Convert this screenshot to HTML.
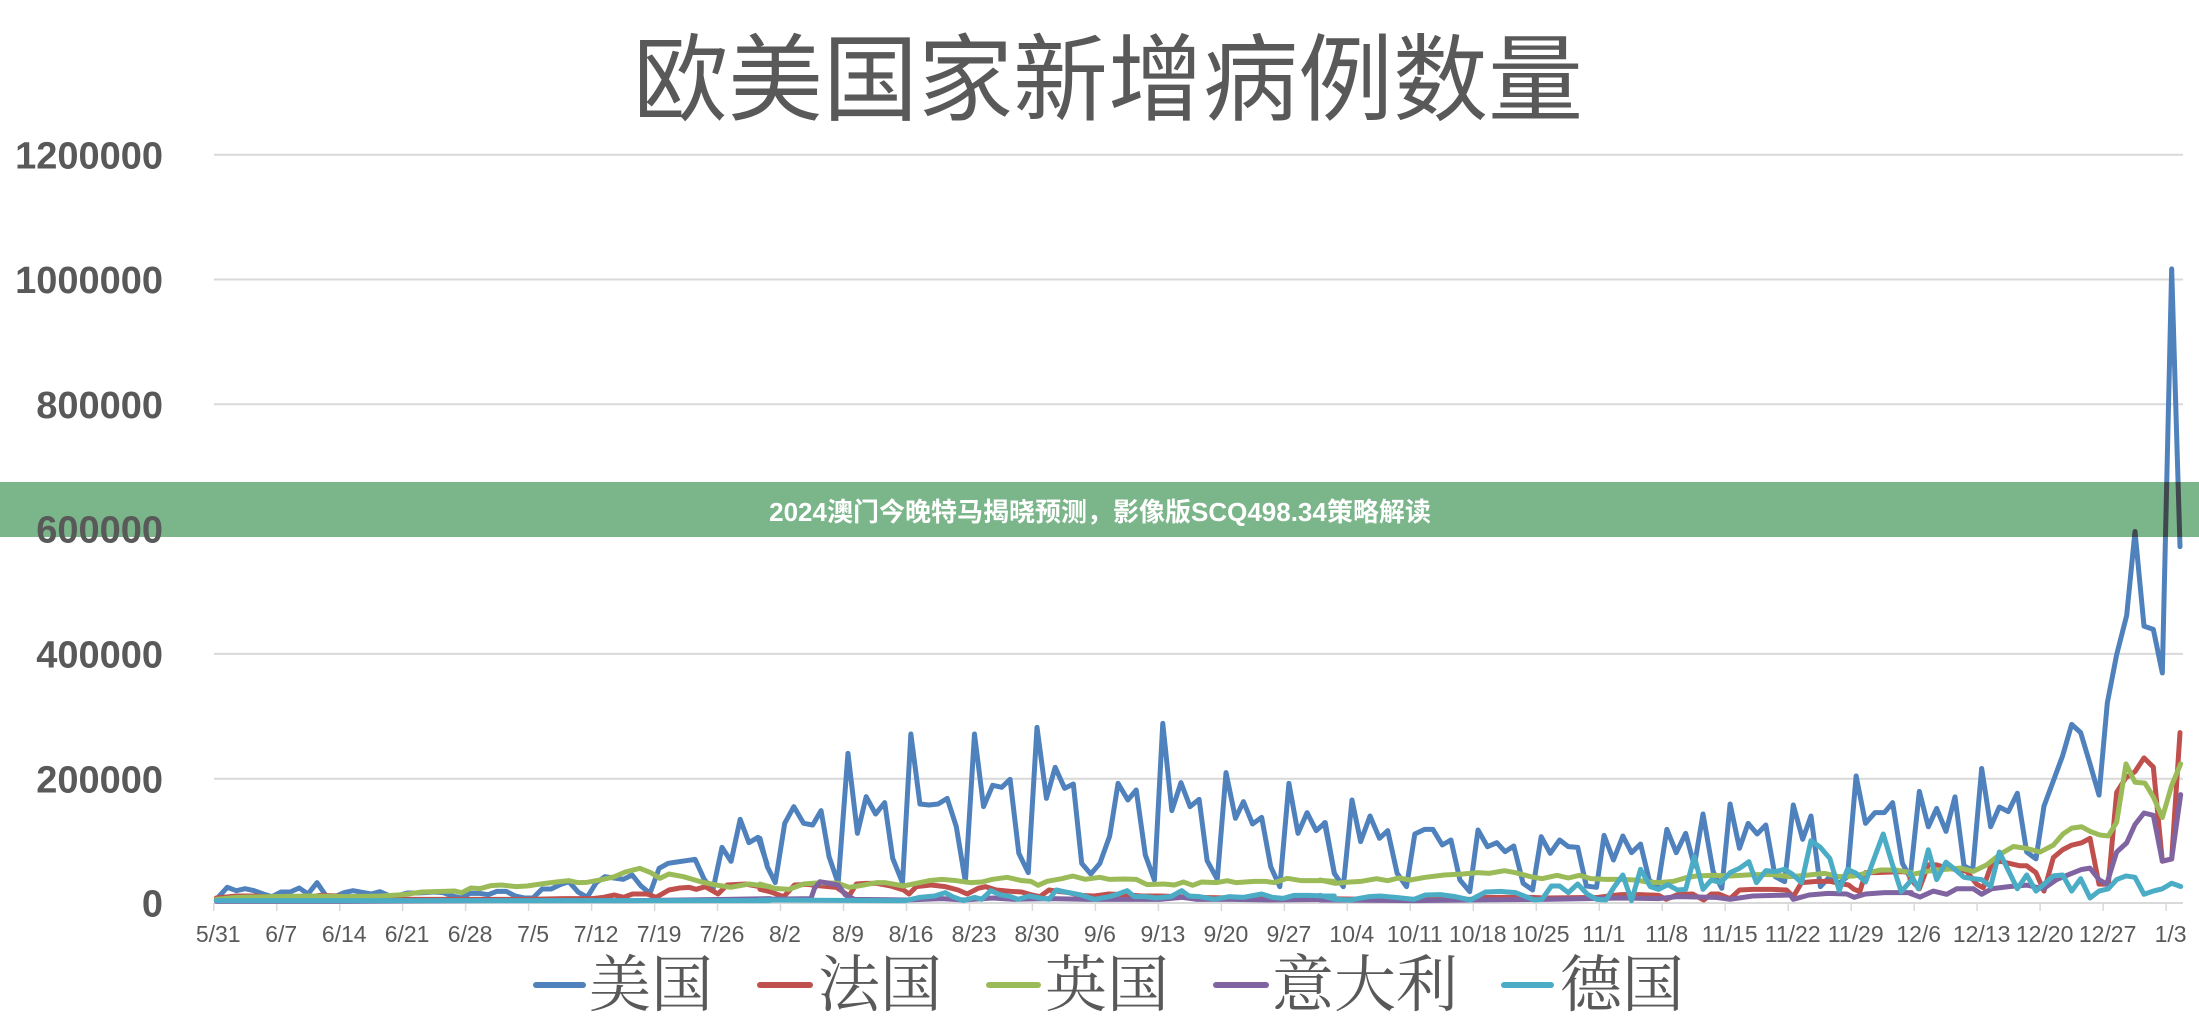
<!DOCTYPE html>
<html><head><meta charset="utf-8"><style>
html,body{margin:0;padding:0;background:#fff;}
svg{display:block;}
.yl{font-family:"Liberation Sans",sans-serif;font-weight:bold;font-size:38px;fill:#595959;text-anchor:end;}
.xl{font-family:"Liberation Sans",sans-serif;font-size:23px;fill:#595959;text-anchor:middle;}
.lg{font-family:"Liberation Serif","Noto Serif CJK SC",serif;font-size:62px;fill:#595959;}
.s{fill:none;stroke-width:5;stroke-linejoin:round;stroke-linecap:round;}
</style></head><body>
<svg width="2199" height="1020" viewBox="0 0 2199 1020" xmlns="http://www.w3.org/2000/svg">
<rect width="2199" height="1020" fill="#fff"/>
<text x="1108" y="113" text-anchor="middle" style="font-family:'Liberation Sans','Noto Sans CJK SC',sans-serif;font-size:95px;fill:#595959;">欧美国家新增病例数量</text>
<g stroke="#d9d9d9" stroke-width="2">
<line x1="214" y1="154.7" x2="2183" y2="154.7"/>
<line x1="214" y1="279.5" x2="2183" y2="279.5"/>
<line x1="214" y1="404.3" x2="2183" y2="404.3"/>
<line x1="214" y1="529.1" x2="2183" y2="529.1"/>
<line x1="214" y1="653.9" x2="2183" y2="653.9"/>
<line x1="214" y1="778.7" x2="2183" y2="778.7"/>
<line x1="214" y1="903" x2="2183" y2="903"/>
</g>
<g stroke="#d9d9d9" stroke-width="1.5">
<line x1="213.7" y1="903" x2="213.7" y2="911"/><line x1="276.7" y1="903" x2="276.7" y2="911"/><line x1="339.7" y1="903" x2="339.7" y2="911"/><line x1="402.6" y1="903" x2="402.6" y2="911"/><line x1="465.6" y1="903" x2="465.6" y2="911"/><line x1="528.6" y1="903" x2="528.6" y2="911"/><line x1="591.6" y1="903" x2="591.6" y2="911"/><line x1="654.6" y1="903" x2="654.6" y2="911"/><line x1="717.5" y1="903" x2="717.5" y2="911"/><line x1="780.5" y1="903" x2="780.5" y2="911"/><line x1="843.5" y1="903" x2="843.5" y2="911"/><line x1="906.5" y1="903" x2="906.5" y2="911"/><line x1="969.5" y1="903" x2="969.5" y2="911"/><line x1="1032.4" y1="903" x2="1032.4" y2="911"/><line x1="1095.4" y1="903" x2="1095.4" y2="911"/><line x1="1158.4" y1="903" x2="1158.4" y2="911"/><line x1="1221.4" y1="903" x2="1221.4" y2="911"/><line x1="1284.4" y1="903" x2="1284.4" y2="911"/><line x1="1347.3" y1="903" x2="1347.3" y2="911"/><line x1="1410.3" y1="903" x2="1410.3" y2="911"/><line x1="1473.3" y1="903" x2="1473.3" y2="911"/><line x1="1536.3" y1="903" x2="1536.3" y2="911"/><line x1="1599.3" y1="903" x2="1599.3" y2="911"/><line x1="1662.2" y1="903" x2="1662.2" y2="911"/><line x1="1725.2" y1="903" x2="1725.2" y2="911"/><line x1="1788.2" y1="903" x2="1788.2" y2="911"/><line x1="1851.2" y1="903" x2="1851.2" y2="911"/><line x1="1914.2" y1="903" x2="1914.2" y2="911"/><line x1="1977.1" y1="903" x2="1977.1" y2="911"/><line x1="2040.1" y1="903" x2="2040.1" y2="911"/><line x1="2103.1" y1="903" x2="2103.1" y2="911"/><line x1="2166.1" y1="903" x2="2166.1" y2="911"/>
</g>
<text class="yl" x="163" y="168.3">1200000</text>
<text class="yl" x="163" y="293.1">1000000</text>
<text class="yl" x="163" y="417.9">800000</text>
<text class="yl" x="163" y="667.5">400000</text>
<text class="yl" x="163" y="792.3">200000</text>
<text class="yl" x="163" y="916.6">0</text>
<g class="xl">
<text class="xl" x="218.2" y="942">5/31</text><text class="xl" x="281.2" y="942">6/7</text><text class="xl" x="344.2" y="942">6/14</text><text class="xl" x="407.1" y="942">6/21</text><text class="xl" x="470.1" y="942">6/28</text><text class="xl" x="533.1" y="942">7/5</text><text class="xl" x="596.1" y="942">7/12</text><text class="xl" x="659.1" y="942">7/19</text><text class="xl" x="722" y="942">7/26</text><text class="xl" x="785" y="942">8/2</text><text class="xl" x="848" y="942">8/9</text><text class="xl" x="911" y="942">8/16</text><text class="xl" x="974" y="942">8/23</text><text class="xl" x="1036.9" y="942">8/30</text><text class="xl" x="1099.9" y="942">9/6</text><text class="xl" x="1162.9" y="942">9/13</text><text class="xl" x="1225.9" y="942">9/20</text><text class="xl" x="1288.9" y="942">9/27</text><text class="xl" x="1351.8" y="942">10/4</text><text class="xl" x="1414.8" y="942">10/11</text><text class="xl" x="1477.8" y="942">10/18</text><text class="xl" x="1540.8" y="942">10/25</text><text class="xl" x="1603.8" y="942">11/1</text><text class="xl" x="1666.7" y="942">11/8</text><text class="xl" x="1729.7" y="942">11/15</text><text class="xl" x="1792.7" y="942">11/22</text><text class="xl" x="1855.7" y="942">11/29</text><text class="xl" x="1918.7" y="942">12/6</text><text class="xl" x="1981.6" y="942">12/13</text><text class="xl" x="2044.6" y="942">12/20</text><text class="xl" x="2107.6" y="942">12/27</text><text class="xl" x="2170.6" y="942">1/3</text>
</g>

<!-- BLUE -->
<g stroke="#4F81BD">
<polyline class="s" vector-effect="non-scaling-stroke" transform="translate(200,690) scale(0.36351,0.33333)" style="vector-effect:non-scaling-stroke" points="45,628 75,592 100,602 124,596 149,602 174,612 198,620 223,606 248,606 273,594 297,612 322,578 347,618 372,620 396,608 421,602 446,607 471,612 495,605 520,617 545,617 570,609 594,609 619,608 644,606 669,608 694,618 718,624 743,610 768,610 793,614 817,604 842,604 867,618 892,624 916,624 941,597 966,597 991,584 1015,575 1040,606 1065,622 1090,578 1114,560 1139,564 1164,568 1189,555 1213,588 1238,610 1263,535 1288,520 1312,516 1337,512 1362,508 1387,568 1411,600 1436,472 1461,514 1486,388 1510,458 1535,442 1560,522"/>
<polyline class="s" vector-effect="non-scaling-stroke" transform="translate(760,690) scale(0.36351,0.33333)" points="0,445 20,530 42,578 68,400 93,350 120,400 145,405 168,362 190,500 215,580 242,190 268,430 292,320 318,372 343,338 365,505 392,578 415,132 440,342 465,345 490,342 515,325 540,410 565,575 590,132 615,350 640,286 665,292 688,268 712,490 738,548 762,112 788,325 812,232 838,295 862,282 885,520 910,552 935,520 962,438 985,280 1012,330 1035,300 1060,495 1085,570 1108,100 1133,362 1158,278 1183,350 1208,328 1230,512 1258,568 1282,248 1308,385 1330,335 1355,402 1380,382 1405,530 1430,590 1455,280 1480,430 1505,368 1530,422 1555,398 1580,550"/>
<polyline class="s" vector-effect="non-scaling-stroke" transform="translate(1320,690) scale(0.37622,0.33333)" points="12,398 38,550 62,590 85,330 108,455 133,378 158,445 180,422 205,550 230,590 252,432 278,418 300,418 325,465 348,450 372,570 398,605 420,420 445,470 470,458 492,485 515,468 540,580 565,600 588,440 612,490 637,450 660,470 685,472 708,588 735,592 755,436 780,510 805,438 828,488 852,462 875,570 898,590 922,418 947,488 972,430 995,528 1018,372 1045,545 1068,595 1090,342 1115,475 1138,400 1162,432 1185,405 1210,560 1235,575 1258,345 1283,448 1305,378 1330,590 1355,560 1380,580 1402,560 1425,258 1450,400 1475,368 1500,368 1522,338 1548,520 1572,570"/>
<polyline class="s" vector-effect="non-scaling-stroke" transform="translate(1900,200) scale(0.33333,0.45918)" points="30,1480 58,1288 85,1365 110,1325 138,1375 165,1300 192,1450 218,1460 245,1238 272,1365 298,1322 325,1332 352,1292 380,1420 408,1435 432,1320 460,1265 488,1210 515,1142 542,1160 570,1228 597,1296 622,1095 650,990 680,905 705,722 732,928 760,935 787,1030 815,150 840,755"/>
</g>
<!-- RED -->
<g stroke="#C0504D">
<polyline class="s" vector-effect="non-scaling-stroke" transform="translate(200,690) scale(0.36351,0.33333)" points="45,624 100,618 150,618 200,622 300,622 330,616 380,618 420,626 600,628 900,628 1000,626 1080,626 1110,622 1140,615 1165,622 1190,612 1230,612 1255,622 1290,600 1320,594 1345,592 1365,598 1390,590 1425,612 1450,585 1500,582 1540,590 1568,595"/>
<polyline class="s" vector-effect="non-scaling-stroke" transform="translate(760,690) scale(0.36351,0.33333)" points="0,598 30,606 65,620 95,585 130,583 170,588 210,592 245,618 265,582 290,580 320,580 360,588 395,600 410,612 430,590 470,585 510,590 545,600 570,612 600,595 620,590 650,600 690,604 720,606 745,614 770,620 795,600 820,604 850,608 880,616 920,618 960,612 1000,614 1050,618 1100,618 1150,620 1200,622 1300,624 1400,626 1580,626"/>
<polyline class="s" vector-effect="non-scaling-stroke" transform="translate(1320,690) scale(0.37622,0.33333)" points="0,626 260,630 290,628 400,628 430,622 560,622 600,624 740,622 780,616 800,614 850,614 900,616 920,628 950,614 990,612 1020,630 1040,612 1060,612 1090,626 1115,600 1150,598 1200,598 1240,600 1258,620 1280,578 1320,574 1355,574 1380,580 1405,585 1420,598 1435,605 1450,548 1480,548 1520,546 1550,545 1572,550"/>
<polyline class="s" vector-effect="non-scaling-stroke" transform="translate(1900,200) scale(0.33333,0.45918)" points="30,1478 58,1500 85,1448 110,1448 140,1455 170,1458 200,1462 230,1490 250,1498 275,1445 300,1440 330,1445 360,1450 380,1450 408,1465 432,1505 460,1432 488,1415 515,1405 545,1400 570,1390 597,1490 625,1490 650,1290 678,1258 705,1245 732,1215 760,1235 787,1440 815,1435 840,1160"/>
</g>
<!-- GREEN -->
<g stroke="#9BBB59">
<polyline class="s" vector-effect="non-scaling-stroke" transform="translate(200,690) scale(0.36351,0.33333)" points="45,628 100,622 200,620 300,618 400,620 500,618 560,614 610,606 700,603 720,608 745,594 770,596 800,587 830,585 870,590 900,588 950,580 980,576 1015,572 1040,578 1065,577 1110,568 1140,560 1170,546 1210,535 1240,548 1265,565 1290,552 1330,560 1380,576 1420,585 1460,592 1510,582 1568,590"/>
<polyline class="s" vector-effect="non-scaling-stroke" transform="translate(760,690) scale(0.36351,0.33333)" points="0,582 40,595 80,598 120,582 170,578 215,580 245,592 270,588 320,578 345,578 395,588 430,580 465,572 500,568 540,572 580,578 610,576 640,568 680,562 720,572 745,574 765,586 790,574 830,566 860,558 895,568 935,562 960,568 1000,567 1035,568 1065,584 1110,582 1140,585 1165,576 1190,586 1215,576 1255,578 1285,572 1310,578 1360,574 1390,574 1415,578 1450,565 1490,572 1550,572 1580,574"/>
<polyline class="s" vector-effect="non-scaling-stroke" transform="translate(1320,690) scale(0.37622,0.33333)" points="0,570 40,580 80,576 110,574 150,566 180,572 210,564 240,570 280,562 330,555 380,552 420,548 450,550 490,542 520,548 560,560 590,566 630,556 660,564 690,556 720,566 760,568 800,568 840,570 870,576 900,578 940,574 970,564 1000,558 1040,556 1090,558 1150,554 1200,554 1250,560 1290,556 1340,550 1380,560 1420,558 1450,550 1490,540 1530,540 1572,548"/>
<polyline class="s" vector-effect="non-scaling-stroke" transform="translate(1900,200) scale(0.33333,0.45918)" points="30,1470 80,1462 130,1458 180,1455 220,1462 260,1448 300,1425 340,1408 380,1412 420,1420 460,1405 490,1380 515,1368 545,1365 570,1375 600,1383 625,1385 650,1355 678,1228 705,1268 735,1270 760,1300 787,1345 815,1275 842,1228"/>
</g>
<!-- PURPLE -->
<g stroke="#8064A2">
<polyline class="s" vector-effect="non-scaling-stroke" transform="translate(200,690) scale(0.36351,0.33333)" points="45,634 400,634 800,632 1200,632 1450,628 1568,626"/>
<polyline class="s" vector-effect="non-scaling-stroke" transform="translate(760,690) scale(0.36351,0.33333)" points="0,628 140,626 150,595 165,575 190,580 215,585 235,615 260,628 400,630 500,626 560,630 640,624 700,628 800,626 900,628 1000,628 1100,628 1160,622 1200,628 1300,628 1400,630 1580,628"/>
<polyline class="s" vector-effect="non-scaling-stroke" transform="translate(1320,690) scale(0.37622,0.33333)" points="0,630 250,632 400,630 600,628 800,624 900,626 950,620 1050,622 1090,628 1150,618 1250,615 1258,628 1300,615 1350,610 1400,612 1420,622 1450,612 1500,608 1572,608"/>
<polyline class="s" vector-effect="non-scaling-stroke" transform="translate(1900,200) scale(0.33333,0.45918)" points="30,1510 60,1518 100,1505 140,1512 170,1500 220,1500 245,1512 275,1500 330,1495 380,1492 430,1500 470,1480 510,1468 545,1458 570,1455 597,1480 620,1490 650,1420 680,1400 705,1360 732,1335 760,1340 787,1440 815,1435 842,1295"/>
</g>
<!-- TEAL -->
<g stroke="#4BACC6">
<polyline class="s" vector-effect="non-scaling-stroke" transform="translate(200,690) scale(0.36351,0.33333)" points="45,632 700,632 1200,632 1568,632"/>
<polyline class="s" vector-effect="non-scaling-stroke" transform="translate(760,690) scale(0.36351,0.33333)" points="0,630 400,632 440,622 480,618 510,608 530,620 560,632 590,622 610,628 635,602 660,614 690,620 710,628 740,618 770,624 795,628 815,600 840,606 880,614 920,628 960,620 985,612 1010,602 1030,620 1060,620 1090,624 1130,620 1160,602 1180,618 1210,620 1250,628 1290,620 1330,622 1380,612 1410,622 1440,625 1470,616 1510,616 1550,618 1580,618"/>
<polyline class="s" vector-effect="non-scaling-stroke" transform="translate(1320,690) scale(0.37622,0.33333)" points="0,616 40,628 80,630 130,620 160,618 200,622 250,628 280,615 320,614 360,620 400,630 440,606 480,604 520,608 570,630 590,628 615,588 637,588 660,608 685,582 710,612 735,628 760,630 780,594 805,555 828,632 852,538 878,590 900,598 925,584 950,600 972,598 995,500 1018,598 1040,570 1065,578 1090,548 1115,535 1140,515 1160,578 1185,542 1210,545 1235,538 1255,552 1280,578 1305,452 1330,472 1355,505 1380,602 1402,538 1425,550 1450,576 1472,508 1497,432 1520,518 1545,605 1572,570"/>
<polyline class="s" vector-effect="non-scaling-stroke" transform="translate(1900,200) scale(0.33333,0.45918)" points="30,1465 55,1500 85,1415 110,1480 138,1442 165,1458 192,1475 220,1478 245,1480 272,1495 298,1420 325,1460 352,1500 380,1470 408,1505 432,1490 460,1472 488,1470 515,1505 542,1478 570,1520 597,1505 625,1500 650,1480 678,1472 705,1475 732,1512 760,1505 787,1500 815,1488 842,1495"/>
</g>

<!-- Banner -->
<rect x="0" y="482" width="2199" height="55" fill="#7BB58A"/>
<defs><clipPath id="band"><rect x="0" y="482" width="2199" height="55"/></clipPath></defs>
<g clip-path="url(#band)" stroke="#3f474f">
<polyline class="s" vector-effect="non-scaling-stroke" transform="translate(1900,200) scale(0.33333,0.45918)" points="680,905 705,722 732,928 760,935 787,1030 815,150 840,755"/>
</g>
<text class="yl" x="163" y="542.7">600000</text>
<text x="1100" y="521" text-anchor="middle" style="font-family:'Liberation Sans','Noto Sans CJK SC',sans-serif;font-weight:bold;font-size:26px;fill:#ffffff;">2024澳门今晚特马揭晓预测，影像版SCQ498.34策略解读</text>

<!-- Legend -->
<g stroke-width="6" stroke-linecap="round">
<line x1="536" y1="985" x2="583" y2="985" stroke="#4F81BD"/>
<line x1="760" y1="985" x2="810" y2="985" stroke="#C0504D"/>
<line x1="989" y1="985" x2="1038" y2="985" stroke="#9BBB59"/>
<line x1="1216" y1="985" x2="1266" y2="985" stroke="#8064A2"/>
<line x1="1504" y1="985" x2="1551" y2="985" stroke="#4BACC6"/>
</g>
<text class="lg" x="589" y="1006">美国</text>
<text class="lg" x="818" y="1006">法国</text>
<text class="lg" x="1045" y="1006">英国</text>
<text class="lg" x="1272" y="1006">意大利</text>
<text class="lg" x="1560" y="1006">德国</text>
</svg>
</body></html>
